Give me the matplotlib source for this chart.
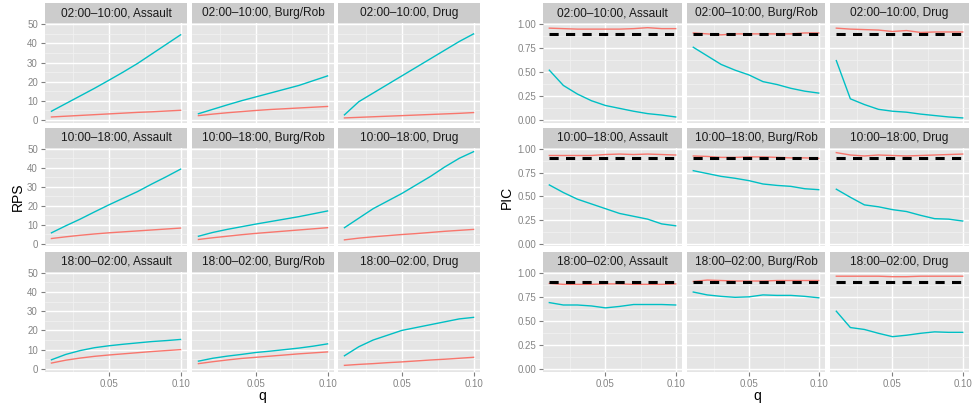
import matplotlib
matplotlib.use('Agg')
import matplotlib.pyplot as plt
from matplotlib.ticker import FixedLocator

plt.rcParams['font.family'] = ['Liberation Sans', 'DejaVu Sans']

q = [0.01, 0.02, 0.03, 0.04, 0.05, 0.06, 0.07, 0.08, 0.09, 0.10]
periods = ['02:00–10:00', '10:00–18:00', '18:00–02:00']
crimes = ['Assault', 'Burg/Rob', 'Drug']
target = [0.9] * len(q)

# RPS, one list per crime inside each period
rps_red_0210 = [[1.5, 1.9, 2.3, 2.7, 3.1, 3.5, 3.9, 4.2, 4.6, 5.0],
                [2.2, 3.0, 3.7, 4.3, 4.9, 5.4, 5.8, 6.2, 6.6, 7.0],
                [1.0, 1.3, 1.6, 1.9, 2.2, 2.5, 2.8, 3.1, 3.4, 3.8]]
rps_cyan_0210 = [[4.5, 8.5, 12.5, 16.5, 20.7, 25.0, 29.5, 34.5, 39.5, 44.5],
                 [3.2, 5.5, 7.8, 10.0, 12.0, 14.0, 16.0, 18.0, 20.5, 23.0],
                 [2.6, 9.5, 14.0, 18.5, 23.0, 27.5, 32.0, 36.5, 41.0, 45.0]]
rps_red_1018 = [[2.8, 3.7, 4.5, 5.2, 5.8, 6.3, 6.8, 7.3, 7.8, 8.3],
                [2.3, 3.2, 4.0, 4.8, 5.5, 6.1, 6.7, 7.3, 7.9, 8.5],
                [2.1, 3.0, 3.7, 4.3, 4.9, 5.4, 6.0, 6.6, 7.1, 7.6]]
rps_cyan_1018 = [[5.8, 9.5, 13.0, 16.8, 20.5, 24.0, 27.5, 31.5, 35.3, 39.3],
                 [4.0, 6.0, 7.6, 9.0, 10.4, 11.7, 13.0, 14.3, 15.8, 17.3],
                 [8.5, 13.5, 18.5, 22.5, 26.5, 31.0, 35.5, 40.5, 45.0, 48.5]]
rps_red_1802 = [[3.0, 4.5, 5.6, 6.5, 7.2, 7.8, 8.4, 9.0, 9.5, 10.0],
                [2.7, 3.7, 4.6, 5.4, 6.0, 6.6, 7.2, 7.8, 8.3, 8.8],
                [1.8, 2.3, 2.7, 3.2, 3.6, 4.1, 4.6, 5.0, 5.5, 6.0]]
rps_cyan_1802 = [[4.7, 7.5, 9.5, 11.0, 12.0, 12.8, 13.5, 14.2, 14.7, 15.3],
                 [4.0, 5.5, 6.6, 7.5, 8.5, 9.2, 10.0, 10.8, 11.8, 13.0],
                 [6.8, 11.5, 15.0, 17.5, 20.0, 21.5, 23.0, 24.5, 26.0, 26.8]]

# PIC
pic_red_0210 = [[0.96, 0.955, 0.95, 0.95, 0.95, 0.95, 0.955, 0.965, 0.955, 0.955],
                [0.91, 0.90, 0.89, 0.90, 0.90, 0.90, 0.90, 0.90, 0.91, 0.91],
                [0.96, 0.95, 0.945, 0.94, 0.925, 0.935, 0.915, 0.92, 0.92, 0.92]]
pic_cyan_0210 = [[0.52, 0.36, 0.27, 0.20, 0.15, 0.12, 0.09, 0.065, 0.05, 0.03],
                 [0.76, 0.67, 0.58, 0.52, 0.47, 0.40, 0.37, 0.33, 0.30, 0.28],
                 [0.62, 0.22, 0.16, 0.11, 0.09, 0.08, 0.06, 0.045, 0.03, 0.02]]
pic_red_1018 = [[0.93, 0.93, 0.93, 0.93, 0.94, 0.945, 0.94, 0.945, 0.94, 0.935],
                [0.925, 0.92, 0.91, 0.91, 0.915, 0.915, 0.91, 0.905, 0.905, 0.90],
                [0.96, 0.935, 0.925, 0.935, 0.93, 0.925, 0.93, 0.935, 0.94, 0.945]]
pic_cyan_1018 = [[0.62, 0.54, 0.47, 0.42, 0.37, 0.32, 0.29, 0.26, 0.21, 0.19],
                 [0.77, 0.74, 0.71, 0.69, 0.665, 0.63, 0.615, 0.605, 0.58, 0.57],
                 [0.575, 0.49, 0.41, 0.39, 0.36, 0.34, 0.30, 0.265, 0.26, 0.24]]
pic_red_1802 = [[0.89, 0.88, 0.88, 0.88, 0.885, 0.885, 0.88, 0.88, 0.88, 0.885],
                [0.91, 0.925, 0.92, 0.915, 0.915, 0.915, 0.92, 0.92, 0.92, 0.92],
                [0.965, 0.965, 0.965, 0.965, 0.96, 0.96, 0.965, 0.965, 0.965, 0.965]]
pic_cyan_1802 = [[0.69, 0.665, 0.665, 0.655, 0.635, 0.65, 0.67, 0.67, 0.67, 0.665],
                 [0.80, 0.77, 0.755, 0.745, 0.75, 0.77, 0.765, 0.765, 0.755, 0.74],
                 [0.60, 0.43, 0.41, 0.37, 0.335, 0.35, 0.37, 0.385, 0.38, 0.38]]

rps_red = [rps_red_0210, rps_red_1018, rps_red_1802]
rps_cyan = [rps_cyan_0210, rps_cyan_1018, rps_cyan_1802]
pic_red = [pic_red_0210, pic_red_1018, pic_red_1802]
pic_cyan = [pic_cyan_0210, pic_cyan_1018, pic_cyan_1802]

RED = '#F8766D'
CYAN = '#00BFC4'
W, H = 976, 408

fig = plt.figure(figsize=(W / 100, H / 100), dpi=100)

left_cols = [(45, 187), (192, 334), (338, 480)]
right_cols = [(543, 682), (687, 825), (830, 969)]
rows = [(23, 122.5), (147.5, 246.5), (271.5, 371.5)]
strip_h = 20


def px_axes(x0, x1, y0, y1):
    return fig.add_axes([x0 / W, 1 - y1 / H, (x1 - x0) / W, (y1 - y0) / H])


def facet_grid(cols, red, cyan, ylim, ymaj, ymin, ylabels, dashed):
    for i in range(3):
        for j in range(3):
            x0, x1 = cols[j]
            y0, y1 = rows[i]
            ax = px_axes(x0, x1, y0, y1)
            ax.set_facecolor('#E5E5E5')
            for s in ax.spines.values():
                s.set_visible(False)
            ax.set_xlim(0.0055, 0.1045)
            ax.set_ylim(*ylim)
            ax.xaxis.set_major_locator(FixedLocator([0.05, 0.10]))
            ax.xaxis.set_minor_locator(FixedLocator([0.025, 0.075]))
            ax.yaxis.set_major_locator(FixedLocator(ymaj))
            ax.yaxis.set_minor_locator(FixedLocator(ymin))
            ax.grid(which='major', color='white', lw=1.0)
            ax.grid(which='minor', color='#F2F2F2', lw=0.5)
            ax.set_axisbelow(True)
            ax.tick_params(which='minor', length=0)
            ax.tick_params(which='major', length=2.9, color='#7F7F7F', width=0.8,
                           labelsize=7, labelcolor='#858585', pad=2.2)
            if j == 0:
                ax.set_yticklabels(ylabels)
            else:
                ax.tick_params(axis='y', length=0, labelleft=False)
            if i == 2:
                ax.set_xticklabels(['0.05', '0.10'])
            else:
                ax.tick_params(axis='x', length=0, labelbottom=False)
            ax.plot(q, red[i][j], color=RED, lw=1.0)
            ax.plot(q, cyan[i][j], color=CYAN, lw=1.0)
            if dashed:
                ax.plot(q, target, color='black', lw=2.2, ls=(0, (3, 2.4)))
            # strip
            sx = px_axes(x0, x1, y0 - strip_h, y0)
            sx.set_facecolor('#CCCCCC')
            sx.set_xticks([])
            sx.set_yticks([])
            for s in sx.spines.values():
                s.set_visible(False)
            sx.text(0.5, 0.48, periods[i] + ', ' + crimes[j], ha='center', va='center',
                    fontsize=8.6, color='#1A1A1A', transform=sx.transAxes)


facet_grid(left_cols, rps_red, rps_cyan, (-1.4, 50.7), [0, 10, 20, 30, 40, 50],
           [5, 15, 25, 35, 45], ['0', '10', '20', '30', '40', '50'], False)
facet_grid(right_cols, pic_red, pic_cyan, (-0.028, 1.014), [0, 0.25, 0.5, 0.75, 1.0],
           [0.125, 0.375, 0.625, 0.875], ['0.00', '0.25', '0.50', '0.75', '1.00'], True)

fig.text(18 / W, 1 - 197 / H, 'RPS', rotation=90, ha='center', va='center', fontsize=10)
fig.text(507 / W, 1 - 197 / H, 'PIC', rotation=90, ha='center', va='center', fontsize=10)
fig.text(262 / W, 1 - 396 / H, 'q', ha='center', va='center', fontsize=10)
fig.text(757 / W, 1 - 396 / H, 'q', ha='center', va='center', fontsize=10)

fig.savefig('out.png', dpi=100)
